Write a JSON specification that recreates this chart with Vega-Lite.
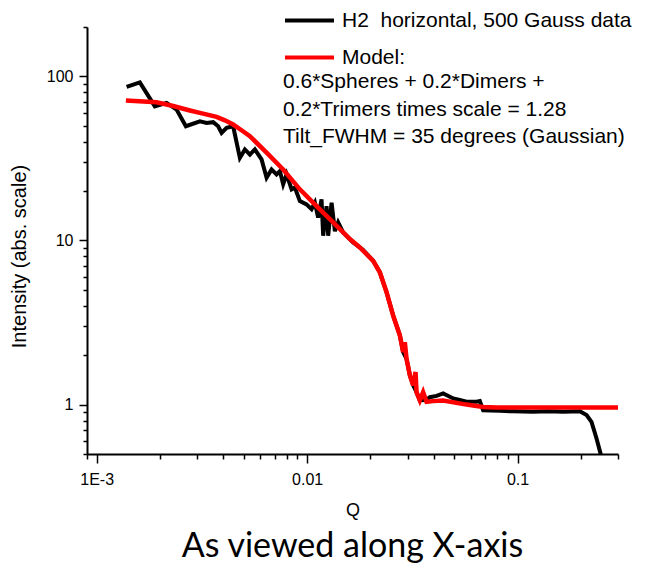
{
  "$schema": "https://vega.github.io/schema/vega-lite/v6.json",
  "width": 531,
  "height": 427,
  "autosize": {"type": "none"},
  "padding": {"left": 87, "top": 27, "right": 33, "bottom": 110},
  "background": "white",
  "config": {
    "view": {"stroke": null},
    "axis": {"domainColor": "black", "tickColor": "black", "labelColor": "black", "titleColor": "black", "domainWidth": 2, "tickWidth": 1.5, "grid": false, "labelFont": "Liberation Sans", "titleFont": "Liberation Sans", "titleFontWeight": "normal"}
  },
  "title": {"text": "As viewed along X-axis", "orient": "bottom", "anchor": "middle", "font": "Lato", "fontSize": 34, "fontWeight": "normal", "color": "black", "offset": 11},
  "data": {
    "values": [
      {"series": "H2 data", "q": 0.001388, "I": 86.2},
      {"series": "H2 data", "q": 0.001605, "I": 91.9},
      {"series": "H2 data", "q": 0.001891, "I": 65.7},
      {"series": "H2 data", "q": 0.002149, "I": 68.9},
      {"series": "H2 data", "q": 0.002398, "I": 62.8},
      {"series": "H2 data", "q": 0.002655, "I": 49.7},
      {"series": "H2 data", "q": 0.003095, "I": 53.3},
      {"series": "H2 data", "q": 0.003331, "I": 52.1},
      {"series": "H2 data", "q": 0.003579, "I": 52.6},
      {"series": "H2 data", "q": 0.00378, "I": 49.7},
      {"series": "H2 data", "q": 0.003924, "I": 45.3},
      {"series": "H2 data", "q": 0.004144, "I": 48.6},
      {"series": "H2 data", "q": 0.004453, "I": 49.7},
      {"series": "H2 data", "q": 0.004793, "I": 31.9},
      {"series": "H2 data", "q": 0.005063, "I": 35.9},
      {"series": "H2 data", "q": 0.005349, "I": 33.4},
      {"series": "H2 data", "q": 0.005646, "I": 35.9},
      {"series": "H2 data", "q": 0.006077, "I": 31.2},
      {"series": "H2 data", "q": 0.006419, "I": 24.1},
      {"series": "H2 data", "q": 0.00678, "I": 27.1},
      {"series": "H2 data", "q": 0.00716, "I": 25.3},
      {"series": "H2 data", "q": 0.007425, "I": 26.5},
      {"series": "H2 data", "q": 0.007696, "I": 22.0},
      {"series": "H2 data", "q": 0.00799, "I": 25.3},
      {"series": "H2 data", "q": 0.00844, "I": 20.5},
      {"series": "H2 data", "q": 0.008745, "I": 21.0},
      {"series": "H2 data", "q": 0.009239, "I": 17.4},
      {"series": "H2 data", "q": 0.00994, "I": 16.6},
      {"series": "H2 data", "q": 0.0105, "I": 15.5},
      {"series": "H2 data", "q": 0.01089, "I": 17.0},
      {"series": "H2 data", "q": 0.01128, "I": 13.8},
      {"series": "H2 data", "q": 0.01171, "I": 17.8},
      {"series": "H2 data", "q": 0.01192, "I": 10.7},
      {"series": "H2 data", "q": 0.01237, "I": 16.2},
      {"series": "H2 data", "q": 0.01259, "I": 10.7},
      {"series": "H2 data", "q": 0.01307, "I": 17.0},
      {"series": "H2 data", "q": 0.01355, "I": 11.4},
      {"series": "H2 data", "q": 0.01404, "I": 12.9},
      {"series": "H2 data", "q": 0.01483, "I": 11.2},
      {"series": "H2 data", "q": 0.01655, "I": 9.73},
      {"series": "H2 data", "q": 0.01846, "I": 8.75},
      {"series": "H2 data", "q": 0.0206, "I": 7.52},
      {"series": "H2 data", "q": 0.02216, "I": 6.4},
      {"series": "H2 data", "q": 0.02385, "I": 4.84},
      {"series": "H2 data", "q": 0.02563, "I": 3.49},
      {"series": "H2 data", "q": 0.02759, "I": 2.64},
      {"series": "H2 data", "q": 0.02859, "I": 2.09},
      {"series": "H2 data", "q": 0.02968, "I": 1.9},
      {"series": "H2 data", "q": 0.03077, "I": 1.51},
      {"series": "H2 data", "q": 0.0319, "I": 1.31},
      {"series": "H2 data", "q": 0.03311, "I": 1.19},
      {"series": "H2 data", "q": 0.03433, "I": 1.06},
      {"series": "H2 data", "q": 0.03693, "I": 1.07},
      {"series": "H2 data", "q": 0.0383, "I": 1.11},
      {"series": "H2 data", "q": 0.04121, "I": 1.13},
      {"series": "H2 data", "q": 0.0443, "I": 1.17},
      {"series": "H2 data", "q": 0.04612, "I": 1.14},
      {"series": "H2 data", "q": 0.04943, "I": 1.09},
      {"series": "H2 data", "q": 0.0525, "I": 1.07},
      {"series": "H2 data", "q": 0.05721, "I": 1.04},
      {"series": "H2 data", "q": 0.06383, "I": 1.04},
      {"series": "H2 data", "q": 0.06617, "I": 1.05},
      {"series": "H2 data", "q": 0.06862, "I": 0.924},
      {"series": "H2 data", "q": 0.0824, "I": 0.916},
      {"series": "H2 data", "q": 0.095, "I": 0.91},
      {"series": "H2 data", "q": 0.1182, "I": 0.903},
      {"series": "H2 data", "q": 0.14, "I": 0.91},
      {"series": "H2 data", "q": 0.1646, "I": 0.905},
      {"series": "H2 data", "q": 0.1976, "I": 0.911},
      {"series": "H2 data", "q": 0.2127, "I": 0.863},
      {"series": "H2 data", "q": 0.2245, "I": 0.785},
      {"series": "H2 data", "q": 0.2372, "I": 0.622},
      {"series": "H2 data", "q": 0.2478, "I": 0.504},
      {"series": "H2 data", "q": 0.2541, "I": 0.409},
      {"series": "Model", "q": 0.001377, "I": 71.2},
      {"series": "Model", "q": 0.001926, "I": 69.5},
      {"series": "Model", "q": 0.002311, "I": 66.0},
      {"series": "Model", "q": 0.002773, "I": 62.0},
      {"series": "Model", "q": 0.003095, "I": 59.9},
      {"series": "Model", "q": 0.003714, "I": 56.7},
      {"series": "Model", "q": 0.004068, "I": 54.0},
      {"series": "Model", "q": 0.004453, "I": 50.9},
      {"series": "Model", "q": 0.0049, "I": 46.8},
      {"series": "Model", "q": 0.005349, "I": 43.2},
      {"series": "Model", "q": 0.006419, "I": 34.3},
      {"series": "Model", "q": 0.007696, "I": 27.1},
      {"series": "Model", "q": 0.009239, "I": 20.5},
      {"series": "Model", "q": 0.01109, "I": 16.2},
      {"series": "Model", "q": 0.0133, "I": 12.9},
      {"series": "Model", "q": 0.01596, "I": 10.2},
      {"series": "Model", "q": 0.01781, "I": 9.07},
      {"series": "Model", "q": 0.0206, "I": 7.52},
      {"series": "Model", "q": 0.02216, "I": 6.4},
      {"series": "Model", "q": 0.02385, "I": 4.84},
      {"series": "Model", "q": 0.02563, "I": 3.49},
      {"series": "Model", "q": 0.02759, "I": 2.64},
      {"series": "Model", "q": 0.02859, "I": 2.09},
      {"series": "Model", "q": 0.02913, "I": 2.4},
      {"series": "Model", "q": 0.02968, "I": 1.9},
      {"series": "Model", "q": 0.03077, "I": 1.51},
      {"series": "Model", "q": 0.0319, "I": 1.31},
      {"series": "Model", "q": 0.03275, "I": 1.58},
      {"series": "Model", "q": 0.03311, "I": 1.19},
      {"series": "Model", "q": 0.03433, "I": 1.06},
      {"series": "Model", "q": 0.03558, "I": 1.19},
      {"series": "Model", "q": 0.03693, "I": 1.04},
      {"series": "Model", "q": 0.03971, "I": 1.05},
      {"series": "Model", "q": 0.0443, "I": 1.06},
      {"series": "Model", "q": 0.05721, "I": 1.0},
      {"series": "Model", "q": 0.06862, "I": 0.968},
      {"series": "Model", "q": 0.07943, "I": 0.959},
      {"series": "Model", "q": 0.1143, "I": 0.959},
      {"series": "Model", "q": 0.3, "I": 0.959}
    ]
  },
  "layer": [
    {
      "transform": [{"filter": "datum.series == 'H2 data'"}],
      "mark": {"type": "line", "strokeWidth": 4, "clip": true},
      "encoding": {
        "x": {"field": "q", "type": "quantitative", "title": "Q",
          "scale": {"type": "log", "domain": [0.0009, 0.3], "nice": false},
          "axis": {"values": [0.001, 0.01, 0.1], "labelExpr": "datum.value < 0.005 ? '1E-3' : datum.value < 0.05 ? '0.01' : '0.1'", "tickSize": 9, "labelPadding": 8, "labelFontSize": 16, "titleFontSize": 18, "titleY": 56, "titleBaseline": "middle", "orient": "bottom"}},
        "y": {"field": "I", "type": "quantitative", "title": "Intensity (abs. scale)",
          "scale": {"type": "log", "domain": [0.5, 200], "nice": false},
          "axis": {"values": [1, 10, 100], "labelExpr": "datum.value < 5 ? '1' : datum.value < 50 ? '10' : '100'", "tickSize": 8, "labelPadding": 6, "labelFontSize": 16, "titleFontSize": 20, "titleX": -68, "titleY": 229, "titleBaseline": "middle", "orient": "left"}},
        "color": {"field": "series", "type": "nominal",
          "scale": {"domain": ["H2 data", "Model"], "range": ["#000000", "#ff0000"]},
          "legend": {"orient": "none", "legendX": 196, "legendY": -33, "symbolType": "stroke", "symbolSize": 2401, "symbolStrokeWidth": 4,
            "labelFont": "Liberation Sans", "labelFontSize": 21, "labelColor": "black", "labelOffset": 6, "labelLimit": 600, "rowPadding": -6.5,
            "labelExpr": "datum.value == 'Model' ? 'Model:' : 'H2\u00a0 horizontal, 500 Gauss data'",
            "title": ["0.6*Spheres + 0.2*Dimers +", "0.2*Trimers times scale = 1.28", "Tilt_FWHM = 35 degrees (Gaussian)"],
            "titleOrient": "bottom", "titleAnchor": "start", "titleFont": "Liberation Sans", "titleFontSize": 21, "titleFontWeight": "normal", "titleColor": "black", "titleLineHeight": 27.7, "titleLimit": 600, "titlePadding": 3}}
      }
    },
    {
      "transform": [{"filter": "datum.series == 'Model'"}],
      "mark": {"type": "line", "strokeWidth": 4.5, "clip": true},
      "encoding": {
        "x": {"field": "q", "type": "quantitative",
          "scale": {"type": "log", "domain": [0.0009, 0.3], "nice": false},
          "axis": {"values": [0.0009, 0.002, 0.003, 0.004, 0.005, 0.006, 0.007, 0.008, 0.009, 0.02, 0.03, 0.04, 0.05, 0.06, 0.07, 0.08, 0.09, 0.2, 0.3], "labels": false, "domain": false, "tickSize": 5, "title": null, "orient": "bottom"}},
        "y": {"field": "I", "type": "quantitative",
          "scale": {"type": "log", "domain": [0.5, 200], "nice": false},
          "axis": {"values": [0.5, 0.6, 0.7, 0.8, 0.9, 2, 3, 4, 5, 6, 7, 8, 9, 20, 30, 40, 50, 60, 70, 80, 90, 200], "labels": false, "domain": false, "tickSize": 4, "title": null, "orient": "left"}},
        "color": {"field": "series", "type": "nominal",
          "scale": {"domain": ["H2 data", "Model"], "range": ["#000000", "#ff0000"]}}
      }
    }
  ],
  "resolve": {"axis": {"x": "independent", "y": "independent"}}
}
